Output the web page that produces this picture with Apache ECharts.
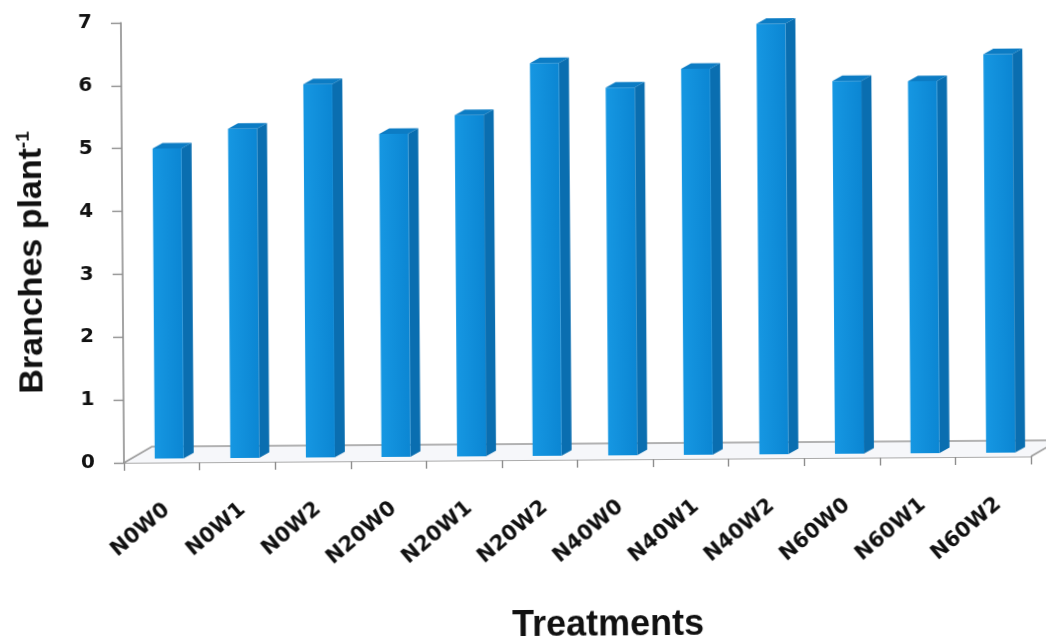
<!DOCTYPE html>
<html>
<head>
<meta charset="utf-8">
<title>Branches per plant by treatment</title>
<script src="https://cdn.jsdelivr.net/npm/echarts@6/dist/echarts.min.js"></script>
<style>
  html, body { margin: 0; padding: 0; background: #ffffff; overflow: hidden; }
  /* the printed figure sits very slightly tilted on the page */
  #chart { width: 1046px; height: 642px; transform: rotate(-0.4deg); transform-origin: 50% 50%; }
</style>
</head>
<body>
<div id="chart"></div>
<script>
// Treatments (nitrogen level x weeding) and branches per plant
const categories = ['N0W0', 'N0W1', 'N0W2', 'N20W0', 'N20W1', 'N20W2',
                    'N40W0', 'N40W1', 'N40W2', 'N60W0', 'N60W1', 'N60W2'];
const branches = [4.93, 5.24, 5.94, 5.14, 5.43, 6.25, 5.85, 6.14, 6.85, 5.93, 5.92, 6.34];
const yTickValues = [0, 1, 2, 3, 4, 5, 6, 7];

const AXIS_GREY = '#8e8e8e';
const LABEL_FONT = '"DejaVu Sans", Verdana, sans-serif';
const TITLE_FONT = '"Liberation Sans", Arial, sans-serif';

// Pseudo-3D column geometry (pixels)
const BAR = { offset: -7, width: 29, depthX: 10, depthY: 5.5, lift: 4 };
const FLOOR = { depthX: 28, depthY: 16 };

const GRID = { left: 123, top: 20, right: 16, bottom: 182 };

const chart = echarts.init(document.getElementById('chart'), null, { renderer: 'canvas' });

function renderFloor(params, api) {
  const cs = params.coordSys;
  const x0 = cs.x, x1 = cs.x + cs.width, y0 = cs.y + cs.height;
  const bx0 = x0 + FLOOR.depthX, bx1 = x1 + FLOOR.depthX, by = y0 - FLOOR.depthY;
  return {
    type: 'group',
    children: [
      {
        type: 'polygon',
        shape: { points: [[x0, y0], [x1, y0], [bx1, by], [bx0, by]] },
        style: { fill: '#f6f7fa', stroke: null }
      },
      {
        type: 'polyline',
        shape: { points: [[x0, y0], [bx0, by], [bx1, by], [x1, y0]] },
        style: { stroke: '#9a9a9a', lineWidth: 1.6, fill: null }
      }
    ]
  };
}

function renderBar(params, api) {
  const i = api.value(0);
  const v = api.value(1);
  const base = api.coord([i, 0]);
  const top = api.coord([i, v]);
  const x0 = base[0] + BAR.offset;
  const x1 = x0 + BAR.width;
  const yb = base[1] - BAR.lift;
  const yt = top[1] - BAR.lift;
  const dx = BAR.depthX, dy = BAR.depthY;
  return {
    type: 'group',
    children: [
      {
        type: 'polygon',
        shape: { points: [[x1, yt], [x1 + dx, yt - dy], [x1 + dx, yb - dy], [x1, yb]] },
        style: { fill: '#0a6eb0' }
      },
      {
        type: 'rect',
        shape: { x: x0, y: yt, width: BAR.width, height: yb - yt },
        style: {
          fill: new echarts.graphic.LinearGradient(0, 0, 1, 0, [
            { offset: 0, color: '#1697e2' },
            { offset: 1, color: '#0b86d3' }
          ])
        }
      },
      {
        type: 'polygon',
        shape: { points: [[x0, yt], [x1, yt], [x1 + dx, yt - dy], [x0 + dx, yt - dy]] },
        style: { fill: '#0c7cc4' }
      }
    ]
  };
}

const option = {
  backgroundColor: '#ffffff',
  animation: false,
  grid: [
    { left: GRID.left, top: GRID.top, right: GRID.right, bottom: GRID.bottom },
    // label row, nudged right to sit under the 3D columns
    { left: GRID.left + 5, top: GRID.top, right: GRID.right - 5, bottom: GRID.bottom }
  ],
  xAxis: [
    {
      type: 'category',
      gridIndex: 0,
      data: categories,
      boundaryGap: true,
      axisLine: { show: true, lineStyle: { color: AXIS_GREY, width: 1.6 } },
      axisTick: { show: true, length: 8, inside: false, lineStyle: { color: AXIS_GREY, width: 1.4 } },
      axisLabel: { show: false },
      splitLine: { show: false }
    },
    {
      type: 'category',
      gridIndex: 1,
      data: categories,
      boundaryGap: true,
      axisLine: { show: false },
      axisTick: { show: false },
      axisLabel: {
        show: true,
        rotate: 40,
        margin: 45,
        interval: 0,
        color: '#111111',
        fontFamily: LABEL_FONT,
        fontWeight: 'bold',
        fontSize: 21
      },
      splitLine: { show: false }
    }
  ],
  yAxis: [
    {
      type: 'value',
      gridIndex: 0,
      min: yTickValues[0],
      max: yTickValues[yTickValues.length - 1],
      interval: 1,
      axisLine: { show: true, lineStyle: { color: AXIS_GREY, width: 1.6 } },
      axisTick: { show: true, length: 10, inside: false, lineStyle: { color: AXIS_GREY, width: 1.4 } },
      axisLabel: {
        margin: 29,
        color: '#111111',
        fontFamily: LABEL_FONT,
        fontWeight: 'bold',
        fontSize: 20
      },
      splitLine: { show: false }
    },
    {
      type: 'value',
      gridIndex: 1,
      min: 0,
      max: 7,
      show: false
    }
  ],
  graphic: [
    {
      type: 'text',
      x: 33,
      y: 259,
      rotation: Math.PI / 2,
      style: {
        text: '{a|Branches plant}{b|-1}',
        align: 'center',
        verticalAlign: 'middle',
        rich: {
          a: { fontFamily: TITLE_FONT, fontWeight: 'bold', fontSize: 34, fill: '#111111', lineHeight: 40 },
          b: { fontFamily: TITLE_FONT, fontWeight: 'bold', fontSize: 19, fill: '#111111', lineHeight: 40, padding: [0, 0, 16, 0] }
        }
      }
    },
    {
      type: 'text',
      x: 606,
      y: 626,
      style: {
        text: 'Treatments',
        align: 'center',
        verticalAlign: 'middle',
        fontFamily: TITLE_FONT,
        fontWeight: 'bold',
        fontSize: 36,
        fill: '#111111'
      }
    }
  ],
  series: [
    {
      type: 'custom',
      name: 'floor',
      xAxisIndex: 0,
      yAxisIndex: 0,
      z: 1,
      silent: true,
      renderItem: renderFloor,
      data: [[0, 0]]
    },
    {
      type: 'custom',
      name: 'Branches plant-1',
      xAxisIndex: 0,
      yAxisIndex: 0,
      z: 3,
      renderItem: renderBar,
      encode: { x: 0, y: 1 },
      data: branches.map((v, i) => [i, v])
    }
  ]
};

chart.setOption(option);
</script>
</body>
</html>
